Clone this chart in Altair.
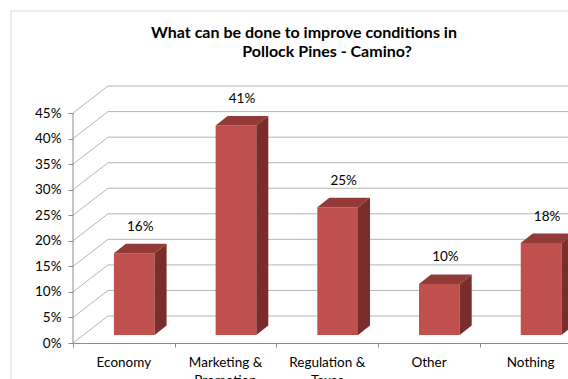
import altair as alt
import pandas as pd

# ---- data ----
categories = ["Economy", "Marketing &\nPromotion", "Regulation &\nTaxes", "Other", "Nothing"]
values = [0.16, 0.41, 0.25, 0.10, 0.18]
value_labels = ["16%", "41%", "25%", "10%", "18%"]
y_ticks = [0.0, 0.05, 0.10, 0.15, 0.20, 0.25, 0.30, 0.35, 0.40, 0.45]
title_lines = ["What can be done to improve conditions in", "Pollock Pines - Camino?"]

# ---- layout / style ----
W, H = 495, 263
XMAX = 4.867
YMAX = 0.5147
kx = W / XMAX
ky = H / YMAX


def px_x(p):
    return p / kx


def px_y(p):
    return p / ky


WALL_DX, WALL_DY = px_x(35), px_y(27)
POS_DX, POS_DY = px_x(10.4), px_y(8)
BAR_DX, BAR_DY = px_x(12), px_y(9.5)
BAR_W = 0.4
FONT = "Lato"
GRID = "#B5B5B5"
AXISC = "#8C8C8C"
FRONT, TOP, SIDE = "#C0504D", "#923A37", "#7A2E2C"

xs = alt.Scale(domain=[0, XMAX], nice=False, zero=False)
ys = alt.Scale(domain=[0, YMAX], nice=False, zero=False)
xaxis = alt.Axis(values=[0, 1, 2, 3, 4, 5], labels=False, title=None, grid=False,
                 tickSize=4, tickColor=AXISC, domainColor=AXISC)
yaxis = alt.Axis(values=y_ticks, format=".0%", title=None, grid=False, domain=False,
                 tickSize=5, tickColor=AXISC, labelPadding=7, labelFont=FONT,
                 labelFontSize=13.5, labelColor="#000000")


def X(f):
    return alt.X(f, type="quantitative", scale=xs, axis=xaxis)


def Y(f):
    return alt.Y(f, type="quantitative", scale=ys, axis=yaxis)


# ---- derived tables ----
rows_front, rows_top, rows_side, rows_lab, rows_cat = [], [], [], [], []
for i, (c, v, lab) in enumerate(zip(categories, values, value_labels)):
    L = i + 0.3 + POS_DX
    R = L + BAR_W
    B = POS_DY
    T = v + POS_DY
    rows_front.append(dict(c=c, x=L, x2=R, y=B, y2=T))
    rows_top += [dict(c=c, x=L, y=T, y2=T), dict(c=c, x=L + BAR_DX, y=T, y2=T + BAR_DY),
                 dict(c=c, x=R, y=T, y2=T + BAR_DY), dict(c=c, x=R + BAR_DX, y=T + BAR_DY, y2=T + BAR_DY)]
    rows_side += [dict(c=c, x=R, y=B, y2=T), dict(c=c, x=R + BAR_DX, y=B + BAR_DY, y2=T + BAR_DY)]
    rows_lab.append(dict(c=c, t=lab, x=(L + R) / 2 + BAR_DX / 2, y=T + BAR_DY))
    rows_cat.append(dict(c=c, x=i + 0.5))

grid_rows = [dict(x=0, y=t, x2=WALL_DX, y2=t + WALL_DY) for t in y_ticks]
back_rows = [dict(x=WALL_DX, y=t + WALL_DY, x2=XMAX) for t in y_ticks]

df_front = pd.DataFrame(rows_front)
df_top = pd.DataFrame(rows_top)
df_side = pd.DataFrame(rows_side)
df_lab = pd.DataFrame(rows_lab)
df_cat = pd.DataFrame(rows_cat)
df_grid = pd.DataFrame(grid_rows)
df_back = pd.DataFrame(back_rows)
df_axis = pd.DataFrame([dict(x=0, y=0, y2=y_ticks[-1])])
one = pd.DataFrame([dict(a=1)])

side_wall = alt.Chart(df_grid).mark_rule(color=GRID, strokeWidth=1).encode(
    x=X("x"), y=Y("y"), x2="x2", y2="y2")
back_wall = alt.Chart(df_back).mark_rule(color=GRID, strokeWidth=1, clip=True).encode(
    x=X("x"), y=Y("y"), x2="x2")
axis_line = alt.Chart(df_axis).mark_rule(color=AXISC, strokeWidth=1).encode(
    x=X("x"), y=Y("y"), y2="y2")

front = alt.Chart(df_front).mark_rect(color=FRONT, clip=True).encode(
    x=X("x"), x2="x2", y=Y("y"), y2="y2")
top = alt.Chart(df_top).mark_area(color=TOP, orient="vertical", clip=True).encode(
    x=X("x"), y=Y("y"), y2="y2", detail="c:N")
side = alt.Chart(df_side).mark_area(color=SIDE, orient="vertical", clip=True).encode(
    x=X("x"), y=Y("y"), y2="y2", detail="c:N")

labels = alt.Chart(df_lab).mark_text(font=FONT, fontSize=13.5, color="#000000",
                                     baseline="middle", dy=-17).encode(
    x=X("x"), y=Y("y"), text="t:N")

cat_labels = alt.Chart(df_cat).mark_text(font=FONT, fontSize=13.5, color="#000000",
                                         baseline="alphabetic", lineBreak="\n",
                                         lineHeight=18).encode(
    x=X("x"), y=alt.value(H + 24), text="c:N")

t1 = alt.Chart(one).mark_text(text=title_lines[0], font=FONT, fontSize=16, fontWeight="bold",
                              color="#000000", baseline="alphabetic").encode(
    x=alt.value(231), y=alt.value(-42.5))
t2 = alt.Chart(one).mark_text(text=title_lines[1], font=FONT, fontSize=16, fontWeight="bold",
                              color="#000000", baseline="alphabetic").encode(
    x=alt.value(254), y=alt.value(-23))

frame_left = alt.Chart(one).mark_rule(color="#D9D9D9", strokeWidth=1).encode(
    x=alt.value(-62), y=alt.value(-69), y2=alt.value(H + 40))
frame_top = alt.Chart(one).mark_rule(color="#D9D9D9", strokeWidth=1).encode(
    x=alt.value(-62), x2=alt.value(W), y=alt.value(-69))

chart = alt.layer(
    frame_left, frame_top, side_wall, back_wall, axis_line,
    front, top, side, labels, cat_labels, t1, t2
).properties(
    width=W, height=H,
    autosize=alt.AutoSizeParams(type="none"),
    padding={"left": 73, "top": 80, "right": 0, "bottom": 36},
    background="white",
).configure_view(stroke=None)

chart.save("out.html", embed_options={"renderer": "svg", "actions": False})
